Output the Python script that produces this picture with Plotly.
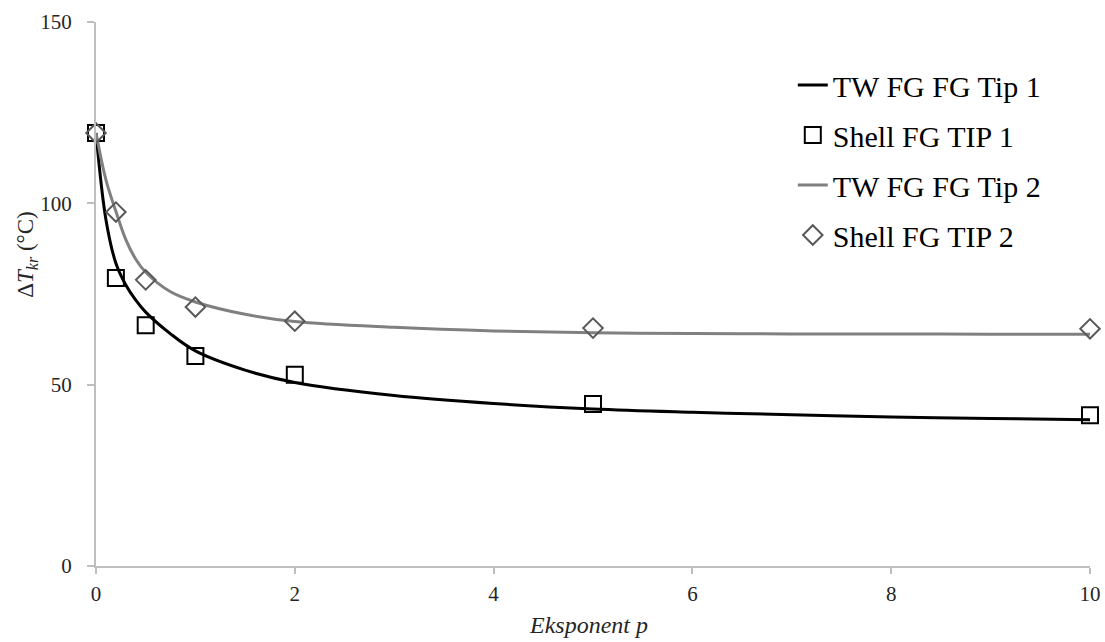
import plotly.graph_objects as go

# TW curves
tw_x = [0, 0.1, 0.2, 0.3, 0.4, 0.5, 0.75, 1, 1.5, 2, 3, 4, 5, 6, 7, 8, 9, 10]
tw1_y = [119.4, 95.5, 83.5, 77.5, 73.3, 70.0, 64.0, 59.3, 54.0, 50.6, 47.0, 44.8, 43.3, 42.4, 41.7, 41.1, 40.7, 40.3]
tw2_y = [119.4, 106.5, 97.8, 90.0, 84.6, 81.0, 75.6, 72.8, 69.4, 67.4, 65.8, 64.8, 64.3, 64.1, 64.0, 64.0, 63.9, 63.9]

# Shell points
shell_x = [0, 0.2, 0.5, 1, 2, 5, 10]
shell1_y = [119.4, 79.4, 66.4, 57.9, 52.7, 44.7, 41.6]
shell2_y = [119.4, 97.6, 78.9, 71.4, 67.5, 65.6, 65.4]

x_ticks = [0, 2, 4, 6, 8, 10]
y_ticks = [0, 50, 100, 150]

FONT = "'Liberation Serif', 'Times New Roman', Times, serif"

fig = go.Figure()
fig.add_trace(go.Scatter(x=tw_x, y=tw1_y, mode="lines", name="TW FG FG Tip 1", cliponaxis=False,
                         line=dict(color="black", width=3, shape="spline"), legendgroup="a"))
fig.add_trace(go.Scatter(x=shell_x, y=shell1_y, mode="markers", name="Shell FG TIP 1", cliponaxis=False,
                         marker=dict(symbol="square-open", size=16, color="black", line=dict(width=2)),
                         legendgroup="b"))
fig.add_trace(go.Scatter(x=tw_x, y=tw2_y, mode="lines", name="TW FG FG Tip 2", cliponaxis=False,
                         line=dict(color="#808080", width=3, shape="spline"), legendgroup="c"))
fig.add_trace(go.Scatter(x=shell_x, y=shell2_y, mode="markers", name="Shell FG TIP 2", cliponaxis=False,
                         marker=dict(symbol="diamond-open", size=15, color="#595959", line=dict(width=2)),
                         legendgroup="d"))

fig.update_layout(
    width=1105, height=642,
    margin=dict(l=96, r=15, t=22, b=76),
    paper_bgcolor="white", plot_bgcolor="white",
    font=dict(family=FONT, color="black", size=21),
    legend=dict(x=0.701, y=0.932, xanchor="left", yanchor="top",
                font=dict(family=FONT, size=30, color="black"),
                traceorder="grouped", tracegroupgap=8,
                bgcolor="rgba(0,0,0,0)"),
    xaxis=dict(range=[0, 10], tickvals=x_ticks, showgrid=False, zeroline=False, automargin=False,
               showline=True, linecolor="#BFBFBF", linewidth=2,
               ticks="outside", tickcolor="#BFBFBF", ticklen=6, tickwidth=2, ticklabelstandoff=2,
               tickfont=dict(family=FONT, size=21, color="#262626")),
    yaxis=dict(range=[0, 150], tickvals=y_ticks, showgrid=False, zeroline=False, automargin=False,
               showline=True, linecolor="#BFBFBF", linewidth=2,
               ticks="outside", tickcolor="#BFBFBF", ticklen=7, tickwidth=2, ticklabelstandoff=11,
               tickfont=dict(family=FONT, size=21, color="#262626")),
    annotations=[
        dict(text="<i>Eksponent p</i>", xref="paper", yref="paper", x=0.495, y=-0.108,
             xanchor="center", yanchor="middle", showarrow=False,
             font=dict(family=FONT, size=24, color="#262626")),
        dict(text="Δ<i>T</i><sub><i>kr</i></sub> (°C)", xref="paper", yref="paper", x=-0.0694, y=0.572,
             xanchor="center", yanchor="middle", textangle=-90, showarrow=False,
             font=dict(family=FONT, size=23, color="#262626")),
    ],
)

fig.write_html("out.html", config={"displayModeBar": False},
               post_script="document.body.style.margin='0';document.body.style.overflow='hidden';")
